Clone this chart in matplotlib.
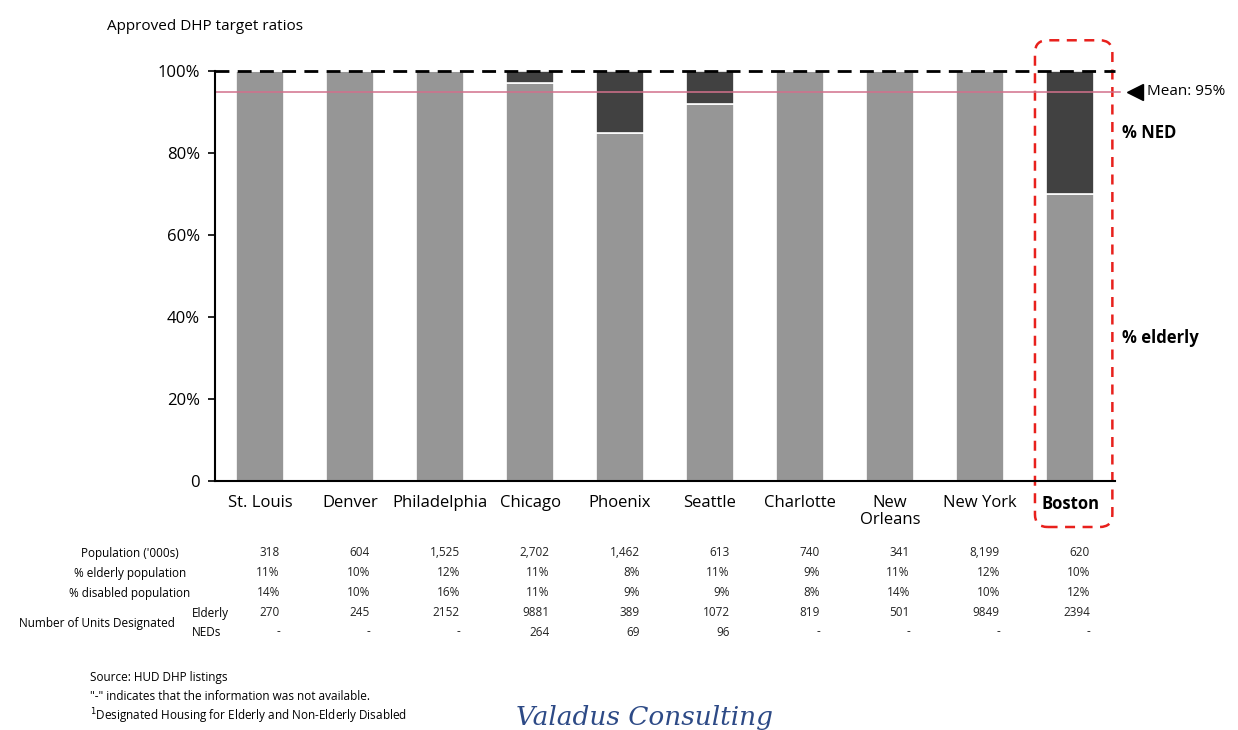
import matplotlib.pyplot as plt
import numpy as np
from matplotlib.patches import FancyBboxPatch

plt.rcParams['font.family'] = ['Open Sans', 'DejaVu Sans']

# Data
cities = ['St. Louis', 'Denver', 'Philadelphia', 'Chicago', 'Phoenix',
          'Seattle', 'Charlotte', 'New\nOrleans', 'New York', 'Boston']
pct_elderly = [100, 100, 100, 97, 85, 92, 100, 100, 100, 70]
pct_ned = [100 - v for v in pct_elderly]
mean_pct = 95

population = ['318', '604', '1,525', '2,702', '1,462', '613', '740', '341', '8,199', '620']
elderly_pop = ['11%', '10%', '12%', '11%', '8%', '11%', '9%', '11%', '12%', '10%']
disabled_pop = ['14%', '10%', '16%', '11%', '9%', '9%', '8%', '14%', '10%', '12%']
units_elderly = ['270', '245', '2152', '9881', '389', '1072', '819', '501', '9849', '2394']
units_ned = ['-', '-', '-', '264', '69', '96', '-', '-', '-', '-']

elderly_color = '#969696'
ned_color = '#414141'

fig = plt.figure(figsize=(12.38, 7.30), dpi=100)
ax = fig.add_axes([0.1737, 0.341, 0.727, 0.5617])

x = np.arange(len(cities))
e = np.array(pct_elderly) / 100
n = np.array(pct_ned) / 100
ax.bar(x, e, width=0.54, color=elderly_color, edgecolor='white', linewidth=1.2)
ax.bar(x, n, bottom=e, width=0.54, color=ned_color, edgecolor='white', linewidth=1.2)

ax.set_xlim(-0.5, len(cities) - 0.5)
ax.set_ylim(0, 1.0)
ax.set_yticks([0, 0.2, 0.4, 0.6, 0.8, 1.0])
ax.set_yticklabels(['0', '20%', '40%', '60%', '80%', '100%'], fontsize=12)
ax.set_xticks(x)
ax.set_xticklabels(cities, fontsize=12, linespacing=1.1)
ax.get_xticklabels()[-1].set_fontweight('bold')
ax.tick_params(axis='x', length=0, pad=10)
ax.tick_params(axis='y', length=5, width=1.2, pad=6)
for s in ['top', 'right']:
    ax.spines[s].set_visible(False)
ax.spines['left'].set_linewidth(1.5)
ax.spines['bottom'].set_linewidth(1.5)

# 100% dashed line and mean line
ax.axhline(1.0, color='black', linestyle=(0, (5, 3)), linewidth=2, clip_on=False)
ax.plot([-0.5, 9.55], [mean_pct / 100] * 2, color='#d2708c', linewidth=1.1, clip_on=False)
ax.plot([9.72], [mean_pct / 100], marker='<', markersize=11, color='black', clip_on=False)
ax.text(9.86, mean_pct / 100, 'Mean: 95%', fontsize=11, va='center', ha='left')
ax.text(9.58, 0.85, '% NED', fontsize=12, fontweight='bold', va='center', ha='left')
ax.text(9.58, 0.35, '% elderly', fontsize=12, fontweight='bold', va='center', ha='left')

# Highlight box around Boston
box = FancyBboxPatch((8.61, -0.112), 0.86, 1.187,
                     boxstyle='round,pad=0,rounding_size=0.14',
                     mutation_aspect=90 / 410,
                     fill=False, edgecolor='#e8201c', linestyle=(0, (4, 3)),
                     linewidth=1.8, clip_on=False)
ax.add_patch(box)

# Table below the chart
rows_y = [553, 573, 593, 613, 632]
rows = [population, elderly_pop, disabled_pop, units_elderly, units_ned]
for ry, vals in zip(rows_y, rows):
    fy = 1 - ry / 730
    for xi, v in zip(x, vals):
        fx = ax.transData.transform((xi + 0.22, 0))[0] / fig.bbox.width
        fig.text(fx, fy, v, fontsize=8.5, ha='right', va='center', color='#222222')

fs = 8.5
fig.text(130 / 1238, 1 - 553 / 730, "Population ('000s)", fontsize=fs, ha='center', va='center')
fig.text(130 / 1238, 1 - 573 / 730, '% elderly population', fontsize=fs, ha='center', va='center')
fig.text(130 / 1238, 1 - 593 / 730, '% disabled population', fontsize=fs, ha='center', va='center')
fig.text(97 / 1238, 1 - 623 / 730, 'Number of Units Designated', fontsize=fs, ha='center', va='center')
fig.text(192 / 1238, 1 - 613 / 730, 'Elderly', fontsize=fs, ha='left', va='center')
fig.text(192 / 1238, 1 - 632 / 730, 'NEDs', fontsize=fs, ha='left', va='center')

# Title and footnotes
fig.text(107 / 1238, 1 - 27 / 730, 'Approved DHP target ratios', fontsize=11, ha='left', va='center')
fig.text(90 / 1238, 1 - 677 / 730, 'Source: HUD DHP listings', fontsize=8.5, ha='left', va='center')
fig.text(90 / 1238, 1 - 696 / 730, '"-" indicates that the information was not available.',
         fontsize=8.5, ha='left', va='center')
fig.text(90 / 1238, 1 - 716 / 730, r'$^1$Designated Housing for Elderly and Non-Elderly Disabled',
         fontsize=8.5, ha='left', va='center')
fig.text(516 / 1238, 1 - 718 / 730, 'Valadus Consulting', fontsize=19, ha='left', va='center',
         family='DejaVu Serif', style='italic', color='#2d4a86')

fig.savefig('out.png', dpi=100)
